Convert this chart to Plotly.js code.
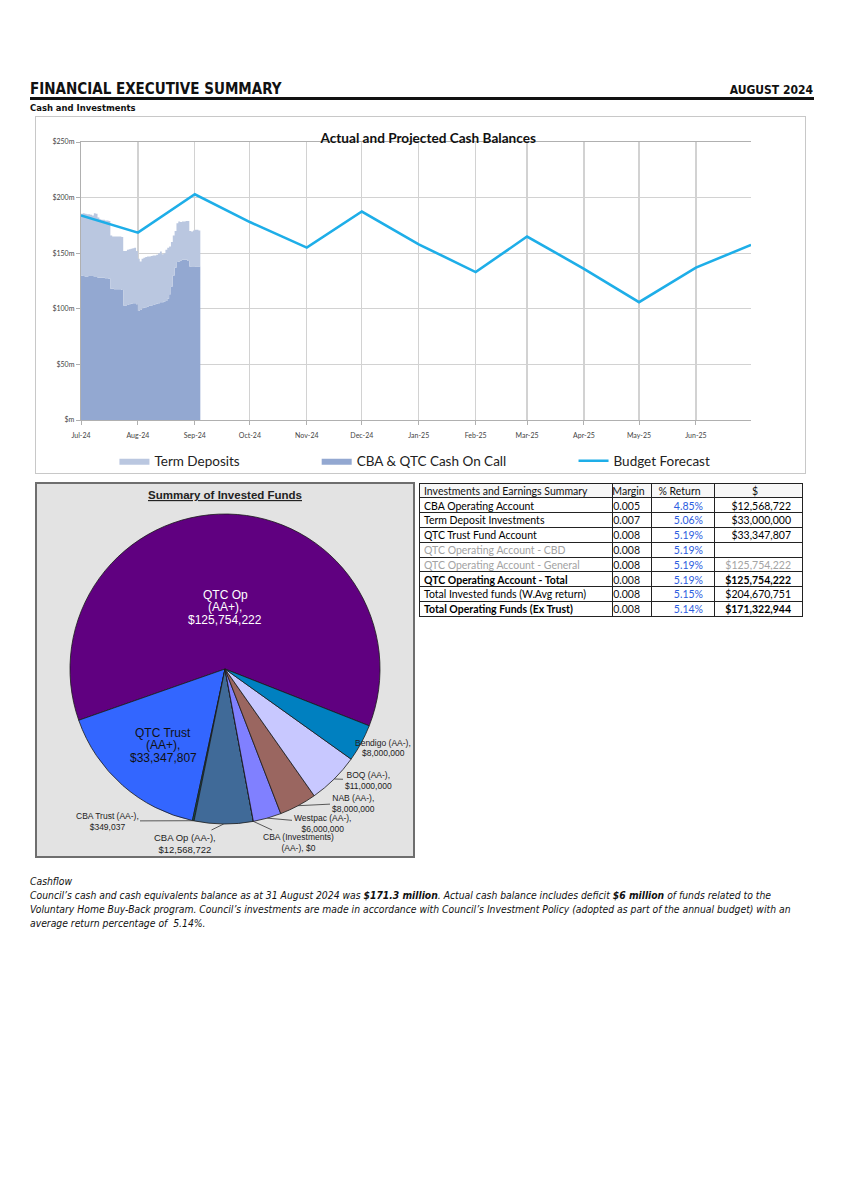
<!DOCTYPE html>
<html>
<head>
<meta charset="utf-8">
<script src="https://cdn.plot.ly/plotly-3.0.1.min.js"></script>
<style>
  body { margin:0; background:#fff; width:843px; height:1194px; position:relative; overflow:hidden;
         font-family:"Liberation Sans Narrow","DejaVu Sans Condensed","Liberation Sans",sans-serif; color:#111; }
  .abs { position:absolute; }
  #h1 { left:30px; top:80px; font-weight:bold; font-size:15px; }
  #h2 { right:30px; top:83px; font-weight:bold; font-size:12px; }
  #rule { left:30px; top:97px; width:784px; height:3px; background:#111; }
  #sub { left:30px; top:102px; font-size:9.4px; font-weight:bold; }
  #cashBox { left:35px; top:116px; width:769px; height:356px; border:1px solid #c8c8c8; background:#fff; }
  #cashChart { left:0; top:0; width:769px; height:356px; }
  #pieBox { left:35px; top:482px; width:376px; height:372px; border:2px solid #6e6e6e; background:#e3e3e3; }
  #pieChart { left:0; top:0; width:376px; height:372px; }
  #tblChart { left:415px; top:478px; width:390px; height:150px; }
  #para { left:30px; top:874px; width:800px; font-style:italic; font-size:10.3px; line-height:14px; white-space:nowrap; }
</style>
</head>
<body>
<div id="h1" class="abs">FINANCIAL EXECUTIVE SUMMARY</div>
<div id="h2" class="abs">AUGUST 2024</div>
<div id="rule" class="abs"></div>
<div id="sub" class="abs">Cash and Investments</div>

<div id="cashBox" class="abs"><div id="cashChart" class="abs"></div></div>
<div id="pieBox" class="abs"><div id="pieChart" class="abs"></div></div>
<div id="tblChart" class="abs"></div>

<div id="para" class="abs">Cashflow<br>Council’s cash and cash equivalents balance as at 31 August 2024 was <b>$171.3 million</b>. Actual cash balance includes deficit <b>$6 million</b> of funds related to the<br>Voluntary Home Buy-Back program. Council’s investments are made in accordance with Council’s Investment Policy (adopted as part of the annual budget) with an<br>average return percentage of &nbsp;5.14%.</div>

<script>
// ---------------- Cash balances data ----------------
const monthTicks = ['2024-07-01','2024-08-01','2024-09-01','2024-10-01','2024-11-01','2024-12-01',
                    '2025-01-01','2025-02-01','2025-03-01','2025-04-01','2025-05-01','2025-06-01'];
const monthLabels = ['Jul-24','Aug-24','Sep-24','Oct-24','Nov-24','Dec-24',
                     'Jan-25','Feb-25','Mar-25','Apr-25','May-25','Jun-25'];
const budgetDates = ['2024-07-01','2024-08-01','2024-09-01','2024-10-01','2024-11-01','2024-12-01',
                     '2025-01-01','2025-02-01','2025-03-01','2025-04-01','2025-05-01','2025-06-01','2025-07-01'];
const budgetForecast = [184, 168.5, 203, 178, 155, 187.5, 158, 133, 165, 136, 106, 137, 157.5];

const dailyDates = [
 '2024-07-01','2024-07-02','2024-07-03','2024-07-04','2024-07-05','2024-07-06','2024-07-07','2024-07-08',
 '2024-07-09','2024-07-10','2024-07-11','2024-07-12','2024-07-13','2024-07-14','2024-07-15','2024-07-16',
 '2024-07-17','2024-07-18','2024-07-19','2024-07-20','2024-07-21','2024-07-22','2024-07-23','2024-07-24',
 '2024-07-25','2024-07-26','2024-07-27','2024-07-28','2024-07-29','2024-07-30','2024-07-31','2024-08-01',
 '2024-08-02','2024-08-03','2024-08-04','2024-08-05','2024-08-06','2024-08-07','2024-08-08','2024-08-09',
 '2024-08-10','2024-08-11','2024-08-12','2024-08-13','2024-08-14','2024-08-15','2024-08-16','2024-08-17',
 '2024-08-18','2024-08-19','2024-08-20','2024-08-21','2024-08-22','2024-08-23','2024-08-24','2024-08-25',
 '2024-08-26','2024-08-27','2024-08-28','2024-08-29','2024-08-30','2024-08-31','2024-09-01','2024-09-02',
 '2024-09-03','2024-09-04'];
const cashOnCall = [
 130, 129.5, 129, 129, 129.5, 129.5, 129.5, 128.5,
 128.5, 128, 128, 128, 128, 127.5, 127.5, 127,
 118, 118, 117.5, 117.5, 117.5, 117.5, 117, 103,
 103, 103.5, 104, 104.5, 105, 105, 104, 98,
 99, 100.5, 101, 101.5, 102, 103, 103, 103.5,
 104, 104.5, 105, 106, 106, 106.5, 107, 109,
 113, 120, 130, 137, 142, 142.5, 143.5, 144,
 144, 144, 143, 138, 137.5, 137.5, 138, 138,
 138, 138.5];
const termDeposits = [
 55.5, 56.5, 56.5, 56, 55.5, 55, 54.5, 57.5,
 57, 54, 52.5, 52, 52, 52, 52, 52,
 48, 47, 47.5, 47.5, 47.5, 47.5, 47.5, 49,
 49, 49.5, 49.5, 49.5, 49.5, 50, 48, 47,
 43.5, 44.5, 45, 45, 45, 44, 44.5, 44.5,
 44, 44, 45, 45.5, 43, 43.5, 46, 46,
 43, 40, 36, 33, 35, 36, 34.5, 34.5,
 34.5, 35, 36, 32, 32, 33, 33, 33,
 32.5, 32.5];
const yTickVals = [0, 50, 100, 150, 200, 250];
const yTickText = ['$m', '$50m', '$100m', '$150m', '$200m', '$250m'];

const gridCol = '#d2d2d2';
const legendFont = {family:'Lato, "Liberation Sans", sans-serif', size:13.5, color:'#222'};
const CW = 769, CH = 356;
function legendAt(xc){
  return {orientation:'h', xref:'container', yref:'container', x:xc, xanchor:'left',
          y:1-344/CH, yanchor:'middle', font:legendFont, bgcolor:'rgba(0,0,0,0)'};
}

Plotly.newPlot('cashChart', [
  { x: dailyDates, y: cashOnCall, type:'scatter', mode:'lines', stackgroup:'cash',
    line:{width:0, shape:'hv'}, fillcolor:'#93a8d1', name:'CBA &amp; QTC Cash On Call',
    legend:'legend2', hoverinfo:'skip' },
  { x: dailyDates, y: termDeposits, type:'scatter', mode:'lines', stackgroup:'cash',
    line:{width:0, shape:'hv'}, fillcolor:'#bac7e0', name:'Term Deposits',
    legend:'legend', hoverinfo:'skip' },
  { x: budgetDates, y: budgetForecast, type:'scatter', mode:'lines',
    line:{color:'#1eaee8', width:2.6}, name:'Budget Forecast', legend:'legend3', hoverinfo:'skip' }
], {
  width:CW, height:CH,
  margin:{l:45, r:54, t:25, b:53},
  paper_bgcolor:'#fff', plot_bgcolor:'#fff',
  title:{text:'<b>Actual and Projected Cash Balances</b>', x:0.51, xref:'container', xanchor:'center',
         y:1-21/CH, yref:'container', yanchor:'middle',
         font:{family:'Lato, "Liberation Sans", sans-serif', size:13.6, color:'#111'}},
  xaxis:{type:'date', range:['2024-07-01','2025-07-01'], tickvals:monthTicks, ticktext:monthLabels,
         showgrid:true, gridcolor:gridCol, gridwidth:1.2, showline:true, linecolor:'#b0b0b0', linewidth:1.2, mirror:true,
         ticks:'outside', ticklen:4, tickcolor:'#b0b0b0', ticklabelstandoff:4,
         tickfont:{family:'Lato, "Liberation Sans", sans-serif', size:7, color:'#444'}, zeroline:false},
  yaxis:{range:[0,250], tickvals:yTickVals, ticktext:yTickText, showgrid:true, gridcolor:gridCol, gridwidth:1.2,
         showline:true, linecolor:'#b0b0b0', linewidth:1.2, ticks:'outside', ticklen:4, tickcolor:'#b0b0b0',
         tickfont:{family:'Lato, "Liberation Sans", sans-serif', size:7, color:'#444'}, zeroline:false},
  legend: legendAt(0.102),
  legend2: legendAt(0.365),
  legend3: legendAt(0.699),
  showlegend:true
}, {staticPlot:true});

// ---------------- Pie data ----------------
const pieNames   = ['QTC Op','QTC Trust','CBA Trust','CBA Op','CBA (Investments)','Westpac','NAB','BOQ','Bendigo'];
const pieRatings = ['AA+','AA+','AA-','AA-','AA-','AA-','AA-','AA-','AA-'];
const pieValues  = [125754222, 33347807, 349037, 12568722, 0, 6000000, 8000000, 11000000, 8000000];
const pieColors  = ['#600080','#3366ff','#0b5a5a','#406a98','#3a6cb0','#8080ff','#9a6660','#c8c8ff','#0080c0'];

// label layout (inner pixel coordinates of pie panel) and line-break style
const PW = 376, PH = 372, CX = 188, CY = 185, R = 155;
const START = 111.5;   // clock angle where the first slice begins (slices run counter-clockwise)
const labelPos = [[188,123],[126,261],[70,337],[148,359],[261,358],[285,339],[316,319],[331,296],[346,264]];
const labelBreak = ['both','both','one','one','first','one','one','one','one'];
const labelArrow = [false,false,true,true,true,true,true,true,false];
const labelColor = ['#ffffff','#111','#222','#222','#222','#222','#222','#222','#222'];
const labelSize  = [12,12,8.5,9.5,8.5,8.5,8.5,8.5,8.5];
const labelGap   = [12.5,12.5,10.5,11,10.5,10.5,10.5,10.5,10.5];

function money(v){ return '$' + v.toLocaleString('en-US'); }
const total = pieValues.reduce((a,b)=>a+b,0);
const plotlyRotation = START - pieValues[0] / total * 360;
let cum = 0;
const annotations = [];
pieNames.forEach((nm,i)=>{
  const rat = '(' + pieRatings[i] + '),';
  let lines;
  if (labelBreak[i]==='both') lines = [nm, rat, money(pieValues[i])];
  else if (labelBreak[i]==='first') lines = [nm, rat + ' ' + money(pieValues[i])];
  else lines = [nm + ' ' + rat, money(pieValues[i])];
  const midDeg = START - (cum + pieValues[i]/2) / total * 360;
  cum += pieValues[i];
  const th = midDeg * Math.PI/180;
  const ex = CX + R*Math.sin(th), ey = CY - R*Math.cos(th);
  const [lx, ly] = labelPos[i];
  const font = {family:'"Liberation Sans", Arial, sans-serif', size:labelSize[i], color:labelColor[i]};
  if (labelArrow[i]) {
    annotations.push({xref:'paper', yref:'paper', x:ex/PW, y:1-ey/PH, ax:lx-ex, ay:ly-ey,
      text:lines.join('<br>'), showarrow:true, arrowhead:0, arrowwidth:0.8, arrowcolor:'#333', standoff:0,
      font:font, align:'center'});
  } else {
    lines.forEach((ln,k)=>{
      const yy = ly + (k - (lines.length-1)/2) * labelGap[i];
      annotations.push({xref:'paper', yref:'paper', x:lx/PW, y:1-yy/PH, xanchor:'center', yanchor:'middle',
        text:ln, showarrow:false, font:font});
    });
  }
});

Plotly.newPlot('pieChart', [{
  type:'pie', labels:pieNames, values:pieValues, sort:false, direction:'counterclockwise', rotation:plotlyRotation,
  marker:{colors:pieColors, line:{color:'#1a1a1a', width:0.8}}, textinfo:'none', hoverinfo:'skip',
  domain:{x:[(CX-R)/PW,(CX+R)/PW], y:[(PH-CY-R)/PH,(PH-CY+R)/PH]}, showlegend:false
}], {
  width:PW, height:PH, margin:{l:0,r:0,t:0,b:0},
  paper_bgcolor:'#e3e3e3',
  title:{text:'<b><span style="text-decoration:underline">Summary of Invested Funds</span></b>',
         x:0.5, xref:'paper', xanchor:'center', y:1-11/PH, yref:'container', yanchor:'middle',
         font:{family:'"Liberation Sans", Arial, sans-serif', size:11.5, color:'#222'}},
  annotations:annotations, showlegend:false
}, {staticPlot:true});

// ---------------- Table data ----------------
const tableHeader = ['Investments and Earnings Summary','Margin','% Return','$'];
const rowNames = ['CBA Operating Account','Term Deposit Investments','QTC Trust Fund Account',
  'QTC Operating Account - CBD','QTC Operating Account - General','QTC Operating Account - Total',
  'Total Invested funds (W.Avg return)','Total Operating Funds (Ex Trust)'];
const margins = [0.005, 0.007, 0.008, 0.008, 0.008, 0.008, 0.008, 0.008];
const returns = [4.85, 5.06, 5.19, 5.19, 5.19, 5.19, 5.15, 5.14];
const amounts = [12568722, 33000000, 33347807, null, 125754222, 125754222, 204670751, 171322944];
const boldRows = [5, 7];
const greyRows = [3, 4];

const col0 = rowNames.slice();
const col1 = margins.map(v=>v.toFixed(3));
const col2 = returns.map(v=>v.toFixed(2)+'%');
const col3 = amounts.map(v=> v===null ? '' : money(v));
const grey = '#a3a3a3';
const fc0 = rowNames.map((s,i)=> greyRows.includes(i) ? grey : '#000');
const fc1 = margins.map(()=> '#111');
const fc2 = returns.map(()=> '#2b5ce0');
const fc3 = amounts.map((v,i)=> i===4 ? grey : '#000');
const wBold = rowNames.map((s,i)=> boldRows.includes(i) ? 'bold' : 'normal');
const wNorm = rowNames.map(()=> 'normal');
const blank = rowNames.map(()=> '');

const TW = 390, TH = 150, ROWH = 14.8, COLW = [193,39,63,88];
const tFont = 'Lato, "Liberation Sans", sans-serif';
const tSize = 10.5;
// grid layer (cell borders and fills)
const gridTable = {
  type:'table', columnwidth:COLW, domain:{x:[4/TW,(4+383)/TW], y:[0,1-5/TH]},
  header:{values:['','','',''], height:ROWH, fill:{color:'#f7f7f7'}, line:{color:'#222', width:1},
          font:{family:tFont, size:tSize}},
  cells:{values:[blank,blank,blank,blank], height:ROWH, fill:{color:'#ffffff'}, line:{color:'#222', width:1},
         font:{family:tFont, size:tSize}}
};
// text layer (same table, lifted to centre the text in each row)
const textTable = {
  type:'table', columnwidth:COLW, domain:{x:[1/TW,(1+383)/TW], y:[0,1-1/TH]},
  header:{values:tableHeader, align:['left','center','center','center'], height:ROWH,
          fill:{color:'rgba(0,0,0,0)'}, line:{color:'rgba(0,0,0,0)', width:0},
          font:{family:tFont, size:tSize, color:'#111'}},
  cells:{values:[col0,col1,col2,col3], align:['left','right','right','right'], height:ROWH,
         fill:{color:'rgba(0,0,0,0)'}, line:{color:'rgba(0,0,0,0)', width:0},
         font:{family:tFont, size:tSize, color:[fc0,fc1,fc2,fc3], weight:[wBold,wNorm,wNorm,wBold]}}
};
Plotly.newPlot('tblChart', [gridTable, textTable], {
  width:TW, height:TH, margin:{l:0,r:0,t:0,b:0}, paper_bgcolor:'rgba(0,0,0,0)'
}, {staticPlot:true});
</script>
</body>
</html>
